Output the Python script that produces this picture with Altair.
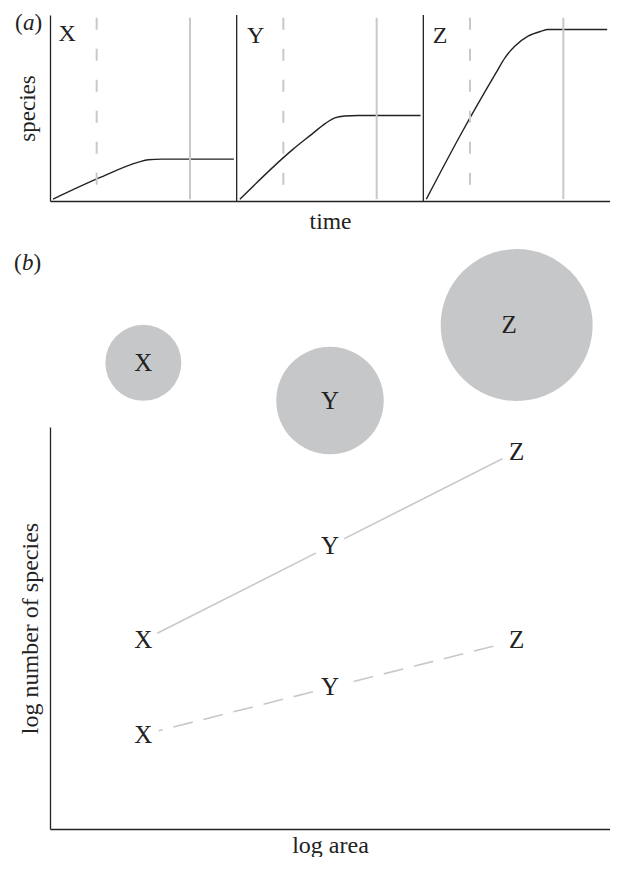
import altair as alt
import pandas as pd

FONT = "Liberation Serif"
INK = "#222222"
GREY = "#c8c8c8"
FILL = "#c6c7c9"

# ---------- panel (a): species accumulation through time ----------
panels = ["X", "Y", "Z"]
x_time = [0.016, 0.263, 0.474, 0.526, 0.6, 0.985]
x_species = [0.01, 0.124, 0.209, 0.222, 0.225, 0.225]
y_time = [0.017, 0.298, 0.4, 0.474, 0.526, 0.579, 0.65, 0.985]
y_species = [0.009, 0.275, 0.357, 0.416, 0.447, 0.457, 0.46, 0.46]
z_time = [0.016, 0.21, 0.386, 0.438, 0.491, 0.561, 0.632, 0.667, 0.985]
z_species = [0.01, 0.375, 0.683, 0.771, 0.833, 0.886, 0.913, 0.922, 0.922]
early_time = 0.25
late_time = 0.75
panel_label_time = [0.045, 0.055, 0.05]
panel_label_species = [0.9, 0.885, 0.885]

# ---------- panel (b): species-area ----------
islands = ["X", "Y", "Z"]
area = [1, 2, 4]
log_area = [0, 1, 2]
log_species_late = [2, 3, 4]
log_species_early = [1, 1.5, 2]
circle_level = [4.94, 4.54, 5.34]
circle_label_area = [0, 1, 1.96]

curve_rows = []
for i, (tt, ss) in enumerate([(x_time, x_species), (y_time, y_species), (z_time, z_species)]):
    for t, s in zip(tt, ss):
        curve_rows.append({"panel": panels[i], "pos": i + t, "species": s})
curves = pd.DataFrame(curve_rows)
early = pd.DataFrame({"panel": panels, "pos": [i + early_time for i in range(3)]})
late = pd.DataFrame({"panel": panels, "pos": [i + late_time for i in range(3)]})
dividers = pd.DataFrame({"pos": [1, 2]})
plabels = pd.DataFrame({"panel": panels,
                        "pos": [i + panel_label_time[i] for i in range(3)],
                        "species": panel_label_species})

W = 560

xa = alt.X("pos:Q", scale=alt.Scale(domain=[0, 3], nice=False, zero=False),
           axis=alt.Axis(title="time", labels=False, ticks=False, grid=False,
                         titleFont=FONT, titleFontSize=23.5, titleFontWeight="normal",
                         titleColor=INK, titlePadding=8, domainColor=INK, domainWidth=1.3))
ya = alt.Y("species:Q", scale=alt.Scale(domain=[0, 1], nice=False),
           axis=alt.Axis(title="species", labels=False, ticks=False, grid=False,
                         titleFont=FONT, titleFontSize=23, titleFontWeight="normal",
                         titleColor=INK, titlePadding=11, domainColor=INK, domainWidth=1.3))

early_rule = alt.Chart(early).mark_rule(color=GREY, strokeWidth=2, strokeDash=[12, 19]).encode(
    x=alt.X("pos:Q"), y=alt.datum(0.985), y2=alt.datum(0.01))
late_rule = alt.Chart(late).mark_rule(color=GREY, strokeWidth=2).encode(
    x=alt.X("pos:Q"), y=alt.datum(0.985), y2=alt.datum(0.01))
divider_rule = alt.Chart(dividers).mark_rule(color=INK, strokeWidth=1.3).encode(
    x=alt.X("pos:Q"), y=alt.datum(0), y2=alt.datum(1))
curve_line = alt.Chart(curves).mark_line(color=INK, strokeWidth=1.4, interpolate="monotone").encode(
    x=xa, y=ya, detail="panel:N")
panel_text = alt.Chart(plabels).mark_text(font=FONT, fontSize=24, color=INK, align="left",
                                          baseline="middle").encode(
    x="pos:Q", y="species:Q", text="panel:N")


def paren_label(letter, x0, y0):
    o = alt.Chart(pd.DataFrame({"t": ["("]})).mark_text(
        font=FONT, fontSize=23, color=INK, align="left", baseline="middle").encode(
        x=alt.value(x0), y=alt.value(y0), text="t:N")
    m = alt.Chart(pd.DataFrame({"t": [letter]})).mark_text(
        font=FONT, fontSize=23, color=INK, align="left", baseline="middle", fontStyle="italic").encode(
        x=alt.value(x0 + 8), y=alt.value(y0), text="t:N")
    c = alt.Chart(pd.DataFrame({"t": [")"]})).mark_text(
        font=FONT, fontSize=23, color=INK, align="left", baseline="middle").encode(
        x=alt.value(x0 + 19.5), y=alt.value(y0), text="t:N")
    return [o, m, c]


top = alt.layer(curve_line, early_rule, late_rule, divider_rule, panel_text,
                *paren_label("a", -35, 8)).properties(width=W, height=186)

# ---------- bottom ----------
late_df = pd.DataFrame({"island": islands, "log_area": log_area, "log_species": log_species_late})
early_df = pd.DataFrame({"island": islands, "log_area": log_area, "log_species": log_species_early})
pts = pd.concat([late_df, early_df], ignore_index=True)
circ = pd.DataFrame({"island": islands, "log_area": log_area, "area": area, "level": circle_level,
                     "label_area": circle_label_area})

bx = alt.X("log_area:Q", scale=alt.Scale(domain=[-0.5, 2.5], nice=False, zero=False),
           axis=alt.Axis(title="log area", labels=False, ticks=False, grid=False,
                         titleFont=FONT, titleFontSize=24, titleFontWeight="normal",
                         titleColor=INK, titlePadding=4, domainColor=INK, domainWidth=1.3))
by = alt.Y("log_species:Q", scale=alt.Scale(domain=[0, 4.26], nice=False, zero=False),
           axis=alt.Axis(title="log number of species", labels=False, ticks=False, grid=False,
                         titleFont=FONT, titleFontSize=24, titleFontWeight="normal",
                         titleColor=INK, titlePadding=8, domainColor=INK, domainWidth=1.3))

late_line = alt.Chart(late_df).mark_line(color=GREY, strokeWidth=1.6).encode(x=bx, y=by)
early_line = alt.Chart(early_df).mark_line(color=GREY, strokeWidth=1.6, strokeDash=[20, 11]).encode(x=bx, y=by)
knock = alt.Chart(pts).mark_point(shape="circle", filled=True, color="white", opacity=1, size=1000).encode(
    x="log_area:Q", y="log_species:Q")
pt_text = alt.Chart(pts).mark_text(font=FONT, fontSize=25, color=INK, baseline="middle").encode(
    x="log_area:Q", y="log_species:Q", text="island:N")

circles = alt.Chart(circ).mark_point(shape="circle", filled=True, color=FILL, opacity=1).encode(
    x="log_area:Q", y=alt.Y("level:Q"),
    size=alt.Size("area:Q", scale=alt.Scale(domain=[0, 4], range=[0, 23104]), legend=None))
circ_text = alt.Chart(circ).mark_text(font=FONT, fontSize=25, color=INK, baseline="middle").encode(
    x="label_area:Q", y="level:Q", text="island:N")

bottom = alt.layer(late_line, early_line, knock, pt_text, circles, circ_text,
                   *paren_label("b", -36, -164)).properties(width=W, height=402)

chart = alt.vconcat(top, bottom, spacing=16).properties(
    padding={"left": 6, "top": 4, "right": 0, "bottom": 0}, background="white"
).configure_view(strokeWidth=0, stroke=None)

chart.save("out.html", embed_options={"renderer": "svg", "actions": False})
